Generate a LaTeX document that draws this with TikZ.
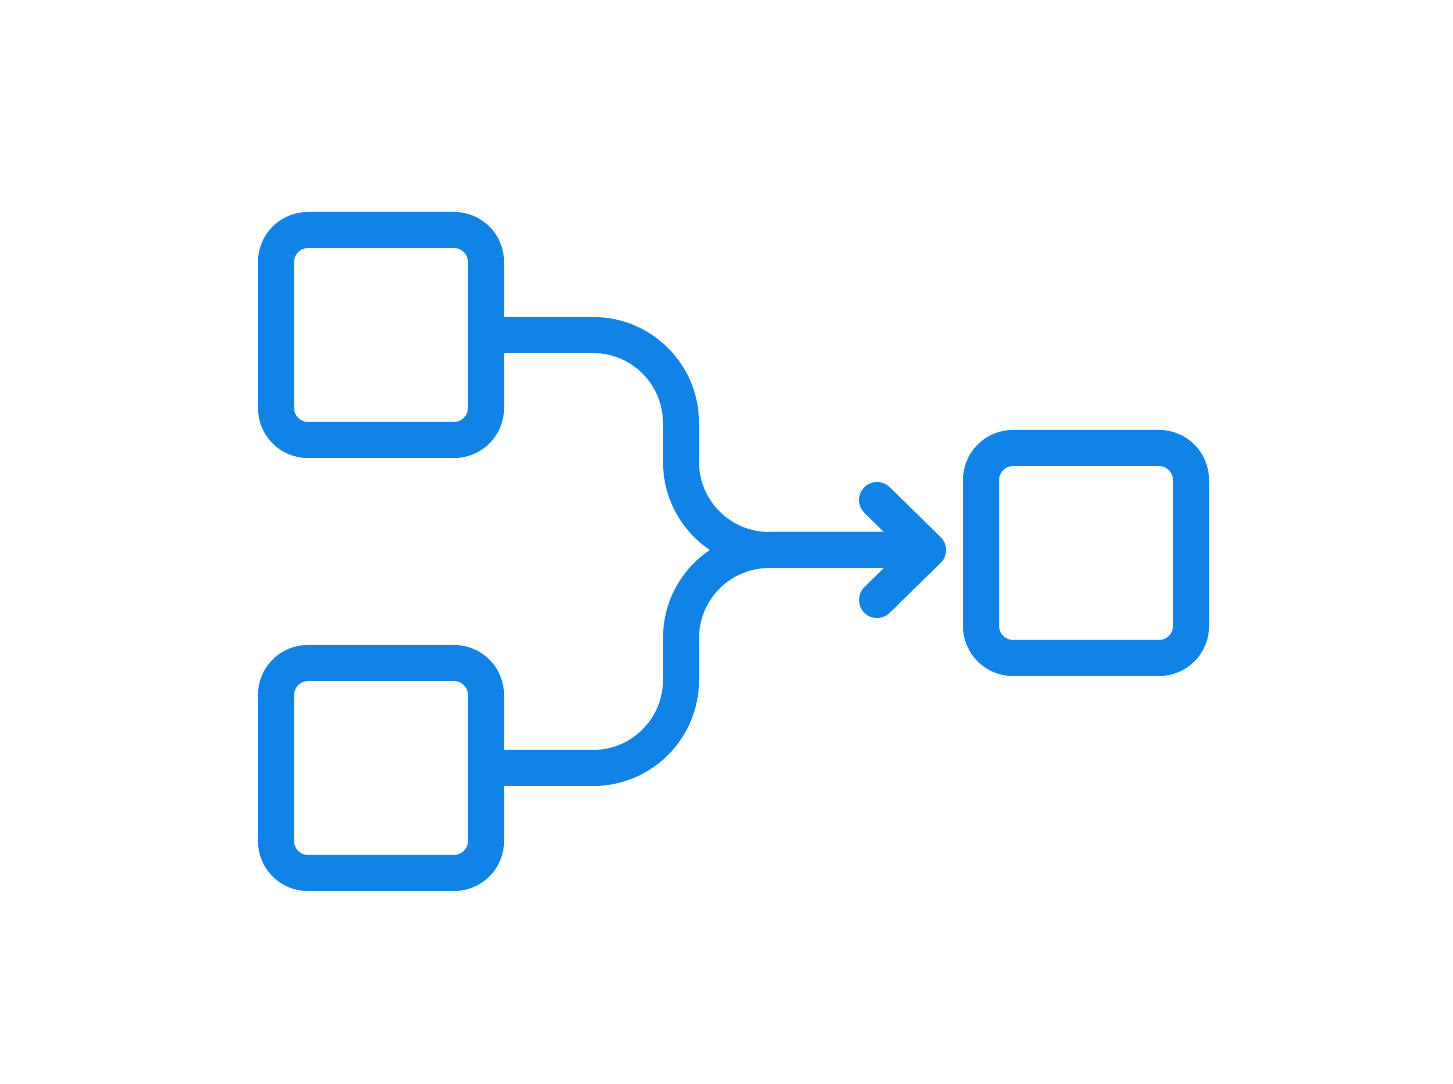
\documentclass[tikz,border=0pt]{standalone}
\usepackage{tikz}
\usetikzlibrary{positioning,calc}

\definecolor{iconblue}{RGB}{18,131,230}

\begin{document}
\begin{tikzpicture}

% Define styles
\tikzstyle{block} = [rectangle, rounded corners=0.32cm, minimum width=2.1cm, minimum height=2.1cm, draw=iconblue, line width=0.36cm]
\tikzstyle{link} = [draw=iconblue, line width=0.36cm, rounded corners=0.88cm]
\tikzstyle{head} = [draw=iconblue, line width=0.36cm, line cap=round, line join=round]

\useasboundingbox (0,0) rectangle (14.53,10.83);

% SOURCES
\node (srcA) [block] at (3.81,7.48) {};
\node (srcB) [block] at (3.81,3.15) {};

% TARGET
\node (target) [block] at (10.86,5.30) {};

% Merge point and arrow tip
\coordinate (merge) at (6.81,5.33);
\coordinate (tip) at (9.28,5.33);

% Connections
\draw [link] (srcA.east) -| (merge) -- (tip);
\draw [link] (srcB.east) -| (merge) -- (tip);

% Arrow head
\draw [head] ($(tip) + (-0.51,0.5)$) -- (tip) -- ($(tip) + (-0.51,-0.5)$);

\end{tikzpicture}
\end{document}
